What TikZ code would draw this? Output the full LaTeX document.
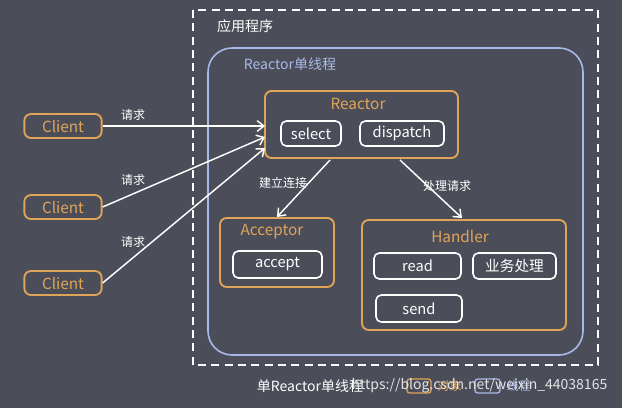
\documentclass[tikz,border=0pt]{standalone}
\usepackage{fontspec}
\setmainfont{Noto Sans CJK SC}
\usetikzlibrary{arrows.meta}
\definecolor{bg}{HTML}{4B4E58}
\definecolor{obj}{HTML}{E0A458}
\definecolor{thr}{HTML}{A9B8E8}
\tikzset{
  obj box/.style={draw=obj, line width=1.4pt, rounded corners=5pt, fill=bg},
  inner box/.style={draw=white, line width=1.2pt, rounded corners=4pt, text=white, font=\fontsize{11}{12}\selectfont},
  title/.style={text=obj, font=\fontsize{11.5}{13}\selectfont},
  label/.style={text=white, font=\fontsize{9}{10}\selectfont},
  req/.style={draw=white, line width=1.1pt, -{Straight Barb[length=5pt,width=8pt]}}
}
\begin{document}
\begin{tikzpicture}[x=0.75pt,y=-0.75pt]
    \fill[bg] (0,0) rectangle (622,408);
    \useasboundingbox (0,0) rectangle (622,408);
    \draw[white, line width=1.2pt, dash pattern=on 6pt off 4pt] (193,10) rectangle (598,365);
    \node[text=white, font=\fontsize{10.5}{12}\selectfont] (app) at (245,26) {应用程序};
    \draw[thr, line width=1.2pt, rounded corners=18pt] (208,48) rectangle (583,355);
    \node[text=thr, font=\fontsize{10.5}{12}\selectfont] (thread) at (290,64) {Reactor单线程};
    % reactor
    \draw[obj box] (265,91) rectangle (458,158);
    \node[title] (reactor) at (358,104) {Reactor};
    \draw[inner box] (281,121) rectangle (341,146) node[midway] (select) {select};
    \draw[inner box] (360,121) rectangle (444,146) node[midway] (dispatch) {dispatch};
    % acceptor
    \draw[obj box] (220,218) rectangle (334,287);
    \node[title] (acceptor) at (272,232) {Acceptor};
    \draw[inner box] (233,251) rectangle (322,278) node[midway] (accept) {accept};
    % handler
    \draw[obj box] (362,220) rectangle (566,330);
    \node[title] (handler) at (460,236) {Handler};
    \draw[inner box] (374,253) rectangle (461,279) node[midway] (read) {read};
    \draw[inner box] (473,253) rectangle (556,279) node[midway] (biz) {业务处理};
    \draw[inner box] (376,295) rectangle (462,322) node[midway] (send) {send};
    % clients
    \foreach \n/\y in {1/126, 2/207, 3/283}
        \node[obj box, text=obj, minimum width=58pt, minimum height=18pt, inner sep=0pt,
              font=\fontsize{11.5}{12}\selectfont] (client-\n) at (63,\y) {Client};
    \coordinate (in-1) at (265,126);
    \coordinate (in-2) at (265,137);
    \coordinate (in-3) at (265,148);
    \foreach \n/\ly in {1/115, 2/180, 3/242} {
        \draw[req] (client-\n.east) -- (in-\n);
        \node[label] (req-\n) at (133,\ly) {请求};
    }
    \coordinate (r-out-1) at (330,160);
    \coordinate (r-out-2) at (400,160);
    \draw[req] (r-out-1) -- (277,217) coordinate (a-in);
    \node[label] (conn) at (283,183) {建立连接};
    \draw[req] (r-out-2) -- (462,218) coordinate (h-in);
    \node[label] (handle) at (447,186) {处理请求};
    % caption and legend
    \node[text=white, font=\fontsize{10.5}{12}\selectfont] (caption) at (310,386) {单Reactor单线程};
    \draw[obj, line width=1pt, rounded corners=2pt] (407,379) rectangle (431,393);
    \node[text=obj, font=\fontsize{9}{10}\selectfont, anchor=west] (obj-lab) at (433,386) {对象};
    \draw[thr, line width=1pt, rounded corners=2pt] (475,379) rectangle (500,393);
    \node[text=thr, font=\fontsize{9}{10}\selectfont, anchor=west] (thr-lab) at (502,386) {线程};
    \node[text=white!85!bg, font=\fontsize{10.5}{12}\selectfont, anchor=east] (mark) at (612,386) {https://blog.csdn.net/weixin\_44038165};
\end{tikzpicture}
\end{document}
